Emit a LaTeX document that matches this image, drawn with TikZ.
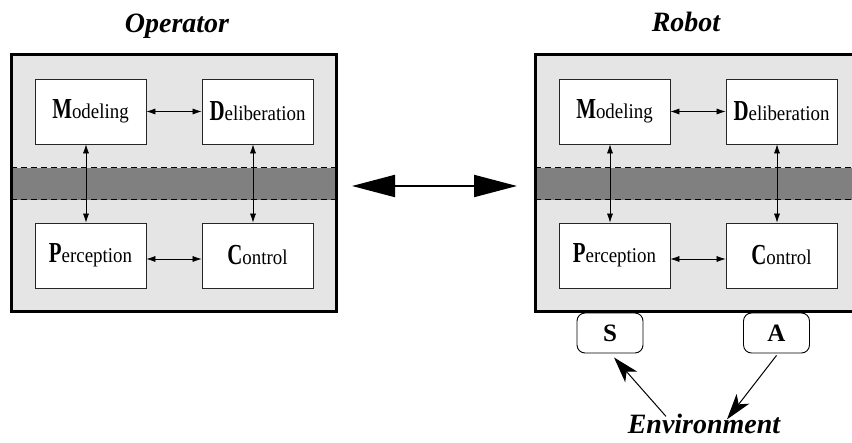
\documentclass[tikz,border=0pt]{standalone}
\usepackage{fontspec}
\setmainfont{Liberation Serif}
\newfontfamily\initfont[FakeStretch=0.72]{Liberation Serif}
\newfontfamily\restfont[FakeStretch=0.9]{Liberation Serif}
\usetikzlibrary{arrows.meta}
\usetikzlibrary{positioning}
\definecolor{panelgray}{gray}{0.9}
\definecolor{bandgray}{gray}{0.5}
\tikzset{
  panel/.style={fill=panelgray},
  panelrim/.style={draw=black, line width=3pt},
  band/.style={fill=bandgray},
  bandedge/.style={dashed, dash pattern=on 6pt off 4pt, line width=1pt},
  module/.style={rectangle, draw=black!85, line width=0.8pt, fill=white,
    minimum width=111pt, minimum height=65pt, inner sep=0pt},
  link/.style={{Latex[length=9pt,width=6pt]}-{Latex[length=9pt,width=6pt]}, line width=0.6pt},
  sensact/.style={rectangle, rounded corners=8pt, draw=black, line width=0.9pt,
    minimum width=66pt, minimum height=40pt, inner sep=0pt,
    font=\fontsize{25}{25}\selectfont\bfseries},
  title/.style={anchor=base, inner sep=0pt, font=\fontsize{28}{28}\selectfont\bfseries\itshape},
  envarrow/.style={-{Stealth[length=26pt,width=16pt,inset=7pt]}, line width=1pt}
}
\newcommand{\modname}[2]{{\initfont\fontsize{29}{29}\selectfont\bfseries #1}{\restfont\fontsize{21}{21}\selectfont #2}}

\begin{document}
\begin{tikzpicture}[x=1pt,y=-1pt]
  \useasboundingbox (0,0) rectangle (852,443);
  \clip (0,0) rectangle (852,443);

  % operator side
  \node[title] (optitle) at (177,33) {Operator};
  \fill[panel] (11,55) rectangle (336,312);
  \fill[band] (11,168) rectangle (336,200);
  \draw[bandedge] (11,168) -- (336,168);
  \draw[bandedge] (11,200) -- (336,200);

  \node (opM) [module] at (90.5,111.5) {\modname{M}{odeling}};
  \node (opD) [module] at (257.5,111.5) {\modname{D}{eliberation}};
  \node (opP) [module] at (90.5,255.5) {\modname{P}{erception}};
  \node (opC) [module] at (257.5,255.5) {\modname{C}{ontrol}};

  \draw[link] (opM.east) -- (opD.west);
  \draw[link] ([yshift=-3.5pt]opP.east) -- ([yshift=-3.5pt]opC.west);
  \draw[link] ([xshift=-4.5pt]opM.south) -- ([xshift=-4.5pt]opP.north);
  \draw[link] ([xshift=-4.5pt]opD.south) -- ([xshift=-4.5pt]opC.north);
  \draw[panelrim] (11,55) rectangle (336,312);

  % robot side
  \node[title] (rbtitle) at (686,32) {Robot};
  \fill[panel] (535,55) rectangle (860,312);
  \fill[band] (535,168) rectangle (860,200);
  \draw[bandedge] (535,168) -- (860,168);
  \draw[bandedge] (535,200) -- (860,200);

  \node (rbM) [module] at (614.5,111.5) {\modname{M}{odeling}};
  \node (rbD) [module] at (781.5,111.5) {\modname{D}{eliberation}};
  \node (rbP) [module] at (614.5,255.5) {\modname{P}{erception}};
  \node (rbC) [module] at (781.5,255.5) {\modname{C}{ontrol}};

  \draw[link] (rbM.east) -- (rbD.west);
  \draw[link] ([yshift=-3.5pt]rbP.east) -- ([yshift=-3.5pt]rbC.west);
  \draw[link] ([xshift=-4.5pt]rbM.south) -- ([xshift=-4.5pt]rbP.north);
  \draw[link] ([xshift=-4.5pt]rbD.south) -- ([xshift=-4.5pt]rbC.north);
  \draw[panelrim] (535,55) rectangle (860,312);

  % exchange between the two
  \coordinate (opside) at (352,186);
  \coordinate (rbside) at (517,186);
  \draw[{Triangle[length=43pt,width=22pt]}-{Triangle[length=43pt,width=22pt]}, line width=2pt]
    (opside) -- (rbside);

  % sensing and acting
  \node (sense) [sensact] at (610,333) {S};
  \node (act) [sensact] at (776.5,333) {A};
  \node[title] (env) at (704,434) {Environment};

  \draw[envarrow] ([xshift=-38pt,yshift=-2pt]env.north) -- ([xshift=4pt,yshift=-4pt]sense.south);
  \draw[envarrow] ([yshift=-2pt]act.south) -- ([xshift=23pt,yshift=-5pt]env.north);
\end{tikzpicture}
\end{document}
